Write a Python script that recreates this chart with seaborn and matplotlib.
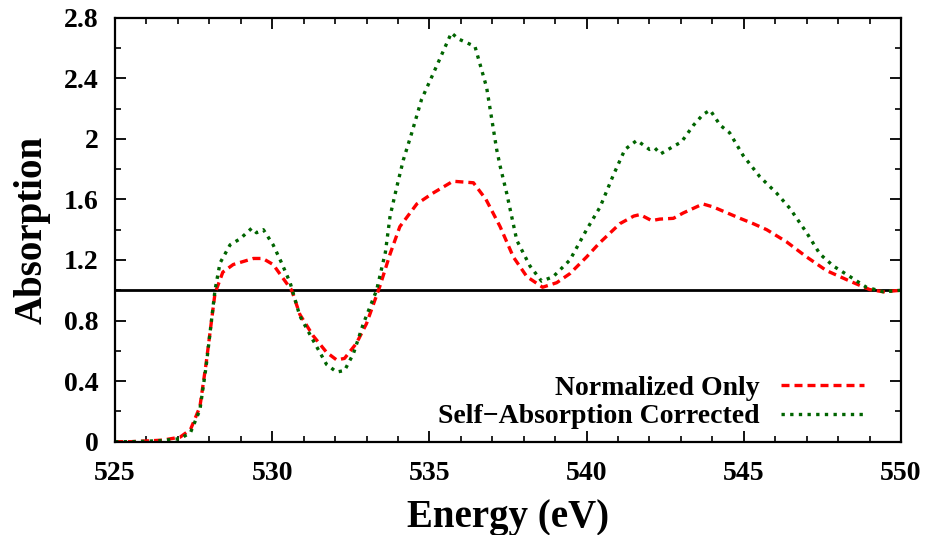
import matplotlib
matplotlib.use("Agg")
import matplotlib.pyplot as plt
import seaborn as sns
import pandas as pd
from matplotlib.ticker import MultipleLocator, FormatStrFormatter

# ---- data ----
energy_norm = [525, 525.5, 526, 526.5, 527.07, 527.4, 527.7, 527.9, 528.18, 528.43, 528.76,
               529.4, 529.7, 530.03, 530.62, 530.88, 531.3, 531.73, 532.05, 532.3, 532.68,
               533.0, 533.43, 533.75, 534.06, 534.6, 535.1, 535.75, 536.4, 536.8, 537.25,
               537.67, 538.1, 538.6, 539.05, 539.47, 540.0, 540.4, 541.06, 541.5, 541.7,
               542.07, 542.33, 542.76, 543.07, 543.7, 544.03, 544.88, 545.3, 545.73, 546.36,
               547.0, 547.63, 548.38, 549.0, 549.44, 550]
absorb_norm = [0, 0, 0.005, 0.01, 0.03, 0.08, 0.23, 0.52, 0.98, 1.12, 1.17,
               1.21, 1.21, 1.17, 1.0, 0.84, 0.70, 0.59, 0.54, 0.55, 0.65,
               0.78, 1.03, 1.24, 1.42, 1.57, 1.64, 1.72, 1.71, 1.60, 1.42,
               1.22, 1.09, 1.02, 1.05, 1.11, 1.22, 1.31, 1.44, 1.49, 1.50,
               1.46, 1.47, 1.475, 1.51, 1.57, 1.55, 1.475, 1.44, 1.40, 1.32,
               1.22, 1.13, 1.06, 1.005, 0.99, 1.0]

energy_corr = [525, 525.5, 526, 526.5, 527.07, 527.4, 527.7, 527.9, 528.18, 528.34, 528.66,
               528.98, 529.35, 529.5, 529.72, 530.03, 530.3, 530.57, 530.88, 531.3, 531.73,
               532.05, 532.3, 532.58, 532.9, 533.32, 533.6, 533.75, 533.96, 534.17, 534.44,
               534.75, 535.12, 535.55, 535.7, 535.92, 536.45, 536.82, 537.14, 537.25, 537.46,
               537.78, 538.2, 538.57, 538.94, 539.47, 540.0, 540.43, 540.85, 541.22, 541.6,
               542.0, 542.17, 542.35, 542.76, 543.02, 543.4, 543.7, 543.93, 544.25, 544.55,
               544.98, 545.51, 546.05, 546.47, 547.0, 547.42, 547.85, 548.38, 548.9, 549.44, 550]
absorb_corr = [0, 0, 0.003, 0.008, 0.02, 0.06, 0.21, 0.5, 1.0, 1.18, 1.30,
               1.34, 1.41, 1.38, 1.40, 1.30, 1.18, 1.05, 0.83, 0.67, 0.51,
               0.46, 0.47, 0.58, 0.78, 1.0, 1.25, 1.49, 1.68, 1.86, 2.04,
               2.26, 2.43, 2.63, 2.70, 2.66, 2.61, 2.34, 1.93, 1.82, 1.64,
               1.33, 1.16, 1.06, 1.09, 1.20, 1.40, 1.55, 1.76, 1.93, 1.99,
               1.93, 1.94, 1.90, 1.95, 1.98, 2.09, 2.16, 2.19, 2.09, 2.04,
               1.89, 1.75, 1.64, 1.54, 1.38, 1.24, 1.16, 1.09, 1.02, 0.99, 1.0]

series_labels = ["Normalized Only", "Self\u2212Absorption Corrected"]
reference_level = 1.0
x_ticks = [525, 530, 535, 540, 545, 550]
y_ticks = [0, 0.4, 0.8, 1.2, 1.6, 2.0, 2.4, 2.8]

# ---- style ----
sns.set_theme(style="ticks")
plt.rcParams["font.family"] = ["Liberation Serif", "DejaVu Serif"]
plt.rcParams["font.weight"] = "bold"
plt.rcParams["axes.labelweight"] = "bold"
plt.rcParams["text.color"] = "black"
plt.rcParams["axes.labelcolor"] = "black"
plt.rcParams["xtick.color"] = "black"
plt.rcParams["ytick.color"] = "black"
plt.rcParams["xtick.labelcolor"] = "black"
plt.rcParams["ytick.labelcolor"] = "black"

fig = plt.figure(figsize=(9.32, 5.35), dpi=100)
ax = fig.add_axes([0.1234, 0.1744, 0.8433, 0.7925])

df_norm = pd.DataFrame({"Energy": energy_norm, "Absorption": absorb_norm})
df_corr = pd.DataFrame({"Energy": energy_corr, "Absorption": absorb_corr})

sns.lineplot(data=df_norm, x="Energy", y="Absorption", ax=ax, color="#ff0000",
             linewidth=2.4, estimator=None, sort=False, label=series_labels[0],
             dashes=False)
sns.lineplot(data=df_corr, x="Energy", y="Absorption", ax=ax, color="#006400",
             linewidth=2.4, estimator=None, sort=False, label=series_labels[1],
             dashes=False)
ax.lines[0].set_dashes((2.4, 1.5))
ax.lines[1].set_dashes((1.0, 1.6))

ax.axhline(reference_level, color="black", linewidth=2.0, zorder=1)

ax.set_xlim(x_ticks[0], x_ticks[-1])
ax.set_ylim(y_ticks[0], y_ticks[-1])
ax.set_xticks(x_ticks)
ax.set_yticks(y_ticks)
ax.xaxis.set_minor_locator(MultipleLocator(1))
ax.yaxis.set_minor_locator(MultipleLocator(0.2))
ax.yaxis.set_major_formatter(FormatStrFormatter("%g"))

ax.tick_params(which="both", direction="in", top=True, right=True, color="black",
               labelcolor="black")
ax.tick_params(which="major", length=8, width=1.3, labelsize=20)
ax.tick_params(axis="x", which="major", pad=14)
ax.tick_params(axis="y", which="major", pad=12)
ax.tick_params(which="minor", length=4, width=1.2)
for lab in ax.get_xticklabels() + ax.get_yticklabels():
    lab.set_fontweight("bold")
for s in ax.spines.values():
    s.set_linewidth(1.6)
    s.set_color("black")

ax.set_xlabel("Energy (eV)", fontsize=28, fontweight="bold", labelpad=9, color="black")
ax.set_ylabel("Absorption", fontsize=28, fontweight="bold", labelpad=9, color="black")

leg = ax.legend(loc="lower right", bbox_to_anchor=(0.985, -0.03), frameon=False,
                markerfirst=False, handlelength=3.0, handletextpad=0.75,
                labelspacing=0.12, prop={"weight": "bold", "size": 20})
for t in leg.get_texts():
    t.set_color("black")

fig.savefig("out.png", dpi=100)
